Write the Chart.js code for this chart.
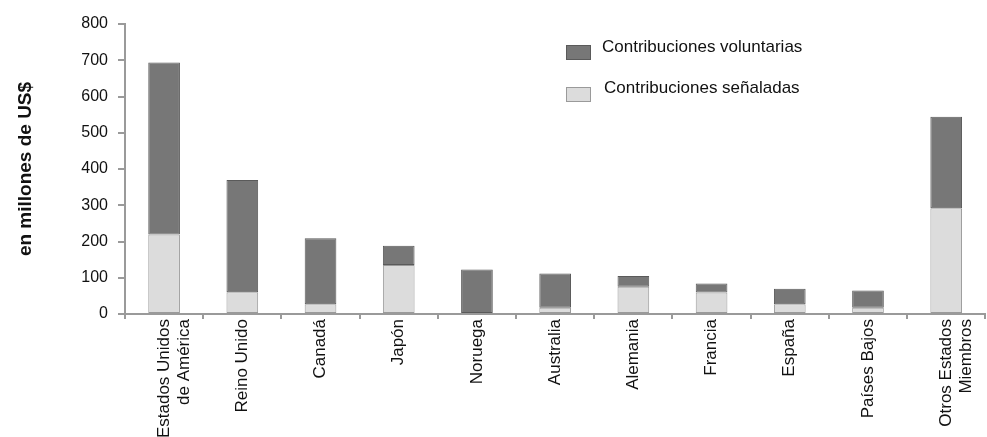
<!DOCTYPE html>
<html>
<head>
<meta charset="utf-8">
<script src="https://cdn.jsdelivr.net/npm/chart.js@4"></script>
<style>
  html, body { margin: 0; padding: 0; background: #fff; }
  #wrap { width: 987px; height: 437px; position: relative; }
</style>
</head>
<body>
<div id="wrap"><canvas id="myChart"></canvas></div>
<script>
var categories = [
  ['Estados Unidos', 'de América'], 'Reino Unido', 'Canadá', 'Japón', 'Noruega',
  'Australia', 'Alemania', 'Francia', 'España', 'Países Bajos', ['Otros Estados', 'Miembros']
];
var senaladas = [219, 60, 27, 135, 3, 17, 75, 59, 27, 17, 292];
var voluntarias = [475, 310, 182, 53, 120, 95, 30, 25, 43, 48, 252];
var yTicks = [0, 100, 200, 300, 400, 500, 600, 700, 800];

var axisGray = '#9a9a9a';
var fontFam = '"Liberation Sans", Arial, sans-serif';

// legend drawn inside the plot, dark series first
var legendBox = {
  id: 'legendBox',
  afterDraw: function(chart) {
    var ctx = chart.ctx;
    var ds = chart.data.datasets;
    var rows = [ds[1], ds[0]];
    ctx.save();
    ctx.font = '17px ' + fontFam;
    ctx.textBaseline = 'middle';
    rows.forEach(function(d, i) {
      var y = 45 + i * 42;
      ctx.fillStyle = d.backgroundColor;
      ctx.strokeStyle = d.borderColor;
      ctx.lineWidth = 1;
      ctx.fillRect(566, y, 24, 14);
      ctx.strokeRect(566.5, y + 0.5, 24, 14);
      ctx.fillStyle = '#111';
      ctx.fillText(d.label, 602 + i * 2, y + 2 - i * 1);
    });
    ctx.restore();
  }
};

var ctx = document.getElementById('myChart').getContext('2d');
var myChart = new Chart(ctx, {
  type: 'bar',
  data: {
    labels: categories,
    datasets: [{
      label: 'Contribuciones señaladas',
      data: senaladas,
      backgroundColor: '#dcdcdc',
      borderColor: '#9a9a9a',
      borderWidth: 1,
      borderSkipped: false
    }, {
      label: 'Contribuciones voluntarias',
      data: voluntarias,
      backgroundColor: '#777777',
      borderColor: '#5a5a5a',
      borderWidth: 1,
      borderSkipped: false
    }]
  },
  options: {
    responsive: true,
    maintainAspectRatio: false,
    animation: false,
    layout: { padding: { left: 14, top: 24, right: 0, bottom: 0 } },
    datasets: { bar: { categoryPercentage: 1, barPercentage: 0.405 } },
    plugins: { legend: { display: false }, tooltip: { enabled: false } },
    scales: {
      x: {
        stacked: true,
        grid: { drawOnChartArea: false, drawTicks: true, tickLength: 5, color: axisGray, lineWidth: 2 },
        border: { color: axisGray, width: 2 },
        ticks: {
          minRotation: 90, maxRotation: 90, autoSkip: false, padding: 0,
          color: '#111',
          font: { family: fontFam, size: 17 }
        },
        afterFit: function(scale) { scale.height = 123; }
      },
      y: {
        stacked: true,
        min: 0, max: 800,
        afterBuildTicks: function(scale) {
          scale.ticks = yTicks.map(function(v) { return { value: v }; });
        },
        grid: { drawOnChartArea: false, drawTicks: true, tickLength: 7, color: axisGray, lineWidth: 2 },
        border: { color: axisGray, width: 2 },
        ticks: {
          padding: 10, color: '#111',
          font: { family: fontFam, size: 16 }
        },
        title: {
          display: true,
          text: 'en millones de US$',
          color: '#111',
          padding: { top: 0, bottom: 0 },
          font: { family: fontFam, size: 19, weight: 'bold' }
        },
        afterFit: function(scale) { scale.width = 111; }
      }
    }
  },
  plugins: [legendBox]
});
</script>
</body>
</html>
